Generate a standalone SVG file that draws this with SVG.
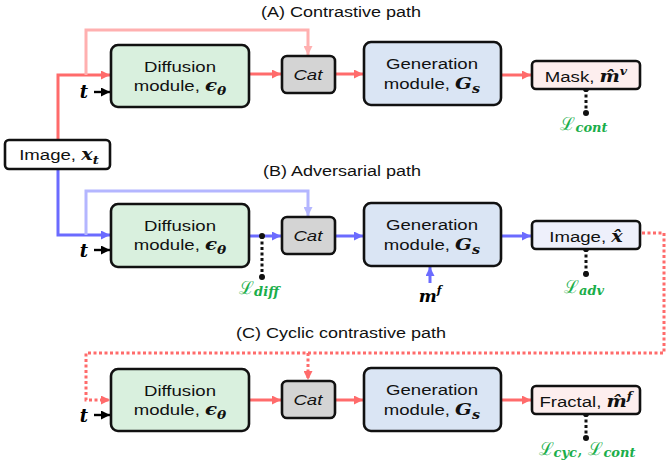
<svg xmlns="http://www.w3.org/2000/svg" width="666" height="471" viewBox="0 0 666 471">
  <defs>
    <marker id="arR" viewBox="0 0 10 10" refX="10" refY="5" markerWidth="9" markerHeight="9" markerUnits="userSpaceOnUse" orient="auto"><path d="M0,0 L10,5 L0,10 z" fill="#ff6b6b"/></marker>
    <marker id="arP" viewBox="0 0 10 10" refX="10" refY="5" markerWidth="9" markerHeight="9" markerUnits="userSpaceOnUse" orient="auto"><path d="M0,0 L10,5 L0,10 z" fill="#ffb0b0"/></marker>
    <marker id="arB" viewBox="0 0 10 10" refX="10" refY="5" markerWidth="9" markerHeight="9" markerUnits="userSpaceOnUse" orient="auto"><path d="M0,0 L10,5 L0,10 z" fill="#6b6bff"/></marker>
    <marker id="arLB" viewBox="0 0 10 10" refX="10" refY="5" markerWidth="9" markerHeight="9" markerUnits="userSpaceOnUse" orient="auto"><path d="M0,0 L10,5 L0,10 z" fill="#b4b6ff"/></marker>
    <marker id="arK" viewBox="0 0 10 10" refX="10" refY="5" markerWidth="9" markerHeight="9" markerUnits="userSpaceOnUse" orient="auto"><path d="M0,0 L10,5 L0,10 z" fill="#000"/></marker>
  </defs>
  <style>
    .box { stroke: #111; stroke-width: 2.6; }
    .diff { fill: #d9f0de; }
    .gen { fill: #dae5f4; }
    .cat { fill: #d4d4d4; }
    .out { fill: #fdeeee; }
    .outb { fill: #eef0fb; }
    .wide { transform-box: fill-box; transform-origin: center; transform: scaleX(1.2); }
    .lbl { font-family: "Liberation Sans", Arial, sans-serif; font-size: 15.5px; fill: #111; text-anchor: middle; }
    .ttl { font-family: "Liberation Sans", Arial, sans-serif; font-size: 15px; fill: #111; text-anchor: middle; }
    .math { font-family: "DejaVu Serif", "Liberation Serif", serif; font-weight: bold; font-style: italic; }
    .loss { font-family: "DejaVu Serif", "Liberation Serif", serif; fill: #1aae4a; text-anchor: middle; }
    .red { fill: none; stroke: #ff6b6b; stroke-width: 3; }
    .pink { fill: none; stroke: #ffb0b0; stroke-width: 3; }
    .blue { fill: none; stroke: #6b6bff; stroke-width: 3; }
    .lblue { fill: none; stroke: #b4b6ff; stroke-width: 3; }
    .rdot { fill: none; stroke: #ff6b6b; stroke-width: 3; stroke-dasharray: 3 2.5; }
    .kdot { fill: none; stroke: #111; stroke-width: 3; stroke-dasharray: 3 2.5; }
    .blk { fill: none; stroke: #000; stroke-width: 2.4; }
  </style>

  <!-- section titles -->
  <text class="ttl wide" x="341" y="17">(A) Contrastive path</text>
  <text class="ttl wide" x="342" y="176">(B) Adversarial  path</text>
  <text class="ttl wide" x="341" y="338">(C) Cyclic contrastive path</text>

  <!-- connectors -->
  <g id="connectors">
    <!-- path A -->
    <path class="red" d="M58,140 V75 H110" marker-end="url(#arR)"/>
    <path class="pink" d="M86,75 V30 H308 V55" marker-end="url(#arP)"/>
    <path class="red" d="M249,74 H281" marker-end="url(#arR)"/>
    <path class="red" d="M335,74 H363" marker-end="url(#arR)"/>
    <path class="red" d="M501,75 H531" marker-end="url(#arR)"/>
    <path class="blk" d="M94,92 H110" marker-end="url(#arK)"/>
    <!-- path B -->
    <path class="blue" d="M58,169 V235 H110" marker-end="url(#arB)"/>
    <path class="lblue" d="M86,235 V191 H308 V216" marker-end="url(#arLB)"/>
    <path class="blue" d="M249,236 H281" marker-end="url(#arB)"/>
    <path class="blue" d="M335,236 H363" marker-end="url(#arB)"/>
    <path class="blue" d="M501,236 H531" marker-end="url(#arB)"/>
    <path class="blue" d="M430,283 V267" marker-end="url(#arB)"/>
    <path class="blk" d="M94,250 H110" marker-end="url(#arK)"/>
    <!-- path C -->
    <path class="rdot" d="M642,233 H664 V353 H86 V400 H110" marker-end="url(#arR)"/>
    <path class="rdot" d="M308,353 V380" marker-end="url(#arR)"/>
    <path class="red" d="M249,400 H281" marker-end="url(#arR)"/>
    <path class="red" d="M335,400 H363" marker-end="url(#arR)"/>
    <path class="red" d="M501,400 H531" marker-end="url(#arR)"/>
    <path class="blk" d="M94,415 H110" marker-end="url(#arK)"/>
    <!-- loss taps -->
    <path class="kdot" d="M586,89 V113"/>
    <circle cx="586" cy="89" r="3" fill="#111"/><circle cx="586" cy="113" r="3" fill="#111"/>
    <path class="kdot" d="M262,236 V277"/>
    <circle cx="262" cy="236" r="3" fill="#111"/><circle cx="262" cy="277" r="3" fill="#111"/>
    <path class="kdot" d="M586,249 V274"/>
    <circle cx="586" cy="249" r="3" fill="#111"/><circle cx="586" cy="274" r="3" fill="#111"/>
    <path class="kdot" d="M586,414 V438"/>
    <circle cx="586" cy="414" r="3" fill="#111"/><circle cx="586" cy="438" r="3" fill="#111"/>
  </g>

  <!-- input -->
  <g id="input-image">
    <rect class="box" x="5" y="140" width="105" height="29" rx="4" fill="#fff"/>
    <text class="lbl wide" x="59" y="160">Image, <tspan class="math" font-size="16">x</tspan><tspan class="math" font-size="11" dy="4">t</tspan></text>
  </g>

  <!-- row A -->
  <g id="diffusion-a">
    <rect class="box diff" x="111" y="45" width="138" height="62" rx="7"/>
    <text class="lbl wide" x="180" y="72">Diffusion</text>
    <text class="lbl wide" x="180" y="91">module, <tspan class="math" font-style="normal" font-size="16.5">ϵ</tspan><tspan class="math" font-size="11.5" dy="4">θ</tspan></text>
  </g>
  <g id="t-a"><text class="math" x="84" y="98" font-size="18" text-anchor="middle">t</text></g>
  <g id="cat-a">
    <rect class="box cat" x="282" y="56" width="53" height="37" rx="5"/>
    <text class="lbl wide" x="308" y="80" font-style="italic">Cat</text>
  </g>
  <g id="generation-a">
    <rect class="box gen" x="364" y="42" width="137" height="63" rx="7"/>
    <text class="lbl wide" x="432" y="69">Generation</text>
    <text class="lbl wide" x="432" y="89">module, <tspan class="math" font-size="16.5">G</tspan><tspan class="math" font-size="12" dy="4">s</tspan></text>
  </g>
  <g id="mask-out">
    <rect class="box out" x="532" y="61" width="108" height="28" rx="4"/>
    <text class="lbl wide" x="586" y="82">Mask, <tspan class="math" font-style="normal" font-size="16">m̂</tspan><tspan class="math" font-size="10.5" dy="-7">v</tspan></text>
  </g>
  <g id="loss-cont"><text class="loss" x="584" y="130" font-size="18">ℒ<tspan class="math" font-size="13" dy="2">cont</tspan></text></g>

  <!-- row B -->
  <g id="diffusion-b">
    <rect class="box diff" x="111" y="204" width="138" height="63" rx="7"/>
    <text class="lbl wide" x="180" y="231">Diffusion</text>
    <text class="lbl wide" x="180" y="250">module, <tspan class="math" font-style="normal" font-size="16.5">ϵ</tspan><tspan class="math" font-size="11.5" dy="4">θ</tspan></text>
  </g>
  <g id="t-b"><text class="math" x="84" y="257" font-size="18" text-anchor="middle">t</text></g>
  <g id="cat-b">
    <rect class="box cat" x="282" y="217" width="53" height="37" rx="5"/>
    <text class="lbl wide" x="308" y="241" font-style="italic">Cat</text>
  </g>
  <g id="generation-b">
    <rect class="box gen" x="364" y="203" width="137" height="63" rx="7"/>
    <text class="lbl wide" x="432" y="230">Generation</text>
    <text class="lbl wide" x="432" y="250">module, <tspan class="math" font-size="16.5">G</tspan><tspan class="math" font-size="12" dy="4">s</tspan></text>
  </g>
  <g id="fractal-input"><text class="math" x="430" y="302" font-size="17" text-anchor="middle">m<tspan font-size="11" dy="-8">f</tspan></text></g>
  <g id="image-out">
    <rect class="box outb" x="532" y="221" width="108" height="28" rx="4"/>
    <text class="lbl wide" x="586" y="242">Image, <tspan class="math" font-style="normal" font-size="16">x̂</tspan></text>
  </g>
  <g id="loss-diff"><text class="loss" x="259" y="294" font-size="18">ℒ<tspan class="math" font-size="13" dy="2">diff</tspan></text></g>
  <g id="loss-adv"><text class="loss" x="584" y="293" font-size="18">ℒ<tspan class="math" font-size="13" dy="2">adv</tspan></text></g>

  <!-- row C -->
  <g id="diffusion-c">
    <rect class="box diff" x="111" y="369" width="138" height="62" rx="7"/>
    <text class="lbl wide" x="180" y="396">Diffusion</text>
    <text class="lbl wide" x="180" y="415">module, <tspan class="math" font-style="normal" font-size="16.5">ϵ</tspan><tspan class="math" font-size="11.5" dy="4">θ</tspan></text>
  </g>
  <g id="t-c"><text class="math" x="84" y="422" font-size="18" text-anchor="middle">t</text></g>
  <g id="cat-c">
    <rect class="box cat" x="282" y="381" width="53" height="37" rx="5"/>
    <text class="lbl wide" x="308" y="405" font-style="italic">Cat</text>
  </g>
  <g id="generation-c">
    <rect class="box gen" x="364" y="368" width="137" height="63" rx="7"/>
    <text class="lbl wide" x="432" y="395">Generation</text>
    <text class="lbl wide" x="432" y="415">module, <tspan class="math" font-size="16.5">G</tspan><tspan class="math" font-size="12" dy="4">s</tspan></text>
  </g>
  <g id="fractal-out">
    <rect class="box out" x="532" y="386" width="108" height="28" rx="4"/>
    <text class="lbl wide" x="586" y="407">Fractal, <tspan class="math" font-style="normal" font-size="16">m̂</tspan><tspan class="math" font-size="10.5" dy="-7">f</tspan></text>
  </g>
  <g id="loss-cyc"><text class="loss" x="587" y="455" font-size="18">ℒ<tspan class="math" font-size="13" dy="2">cyc</tspan><tspan dy="-2">, ℒ</tspan><tspan class="math" font-size="13" dy="2">cont</tspan></text></g>
</svg>
